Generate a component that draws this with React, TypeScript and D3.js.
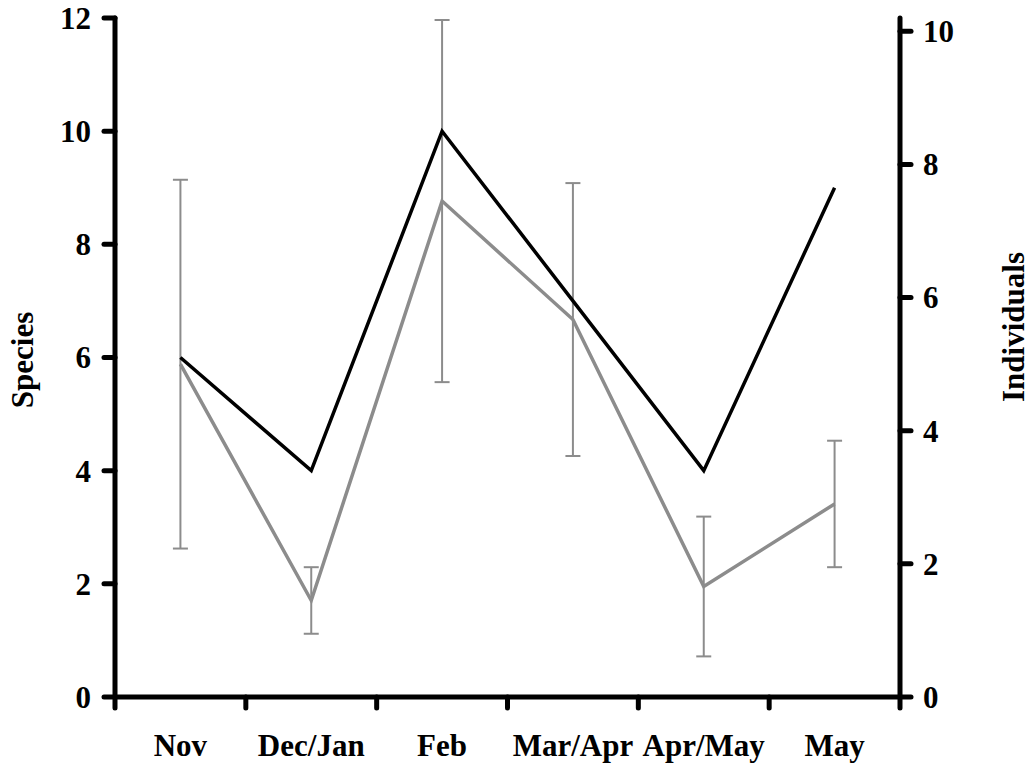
import React from "react";
import * as d3 from "d3";

const categories = ["Nov", "Dec/Jan", "Feb", "Mar/Apr", "Apr/May", "May"];
const species = [6, 4, 10, 7, 4, 9];
const individuals = [5.0, 1.45, 7.45, 5.67, 1.66, 2.9];
const individualsErr = [2.77, 0.5, 2.72, 2.05, 1.05, 0.95];
const leftTicks = [0, 2, 4, 6, 8, 10, 12];
const rightTicks = [0, 2, 4, 6, 8, 10];

const W = 1031;
const H = 769;
const M = { left: 115, right: 900, top: 18, bottom: 697 };
const FONT = "'Liberation Serif', 'Times New Roman', serif";
const GRAY = "#8c8c8c";

export default function App() {
  const x = d3.scaleBand<string>().domain(categories).range([M.left, M.right]).padding(0);
  const yL = d3.scaleLinear().domain([0, 12]).range([M.bottom, M.top]);
  const yR = d3.scaleLinear().domain([0, 10.2]).range([M.bottom, M.top]);
  const cx = (c: string) => (x(c) as number) + x.bandwidth() / 2;

  const lineL = d3.line<number>().x((_, i) => cx(categories[i])).y((d) => yL(d));
  const lineR = d3.line<number>().x((_, i) => cx(categories[i])).y((d) => yR(d));

  const boundaries = categories.map((c) => x(c) as number).concat([M.right]);
  const tickLen = 11;
  const axisW = 5;

  return (
    <svg
      width={W}
      height={H}
      style={{ position: "absolute", left: 0, top: 0, background: "#fff" }}
      fontFamily={FONT}
      fontWeight="bold"
    >
      <rect x={0} y={0} width={W} height={H} fill="#fff" />
      {/* error bars */}
      <g stroke={GRAY} strokeWidth={2} fill="none">
        {individuals.map((v, i) => {
          const px = cx(categories[i]);
          const top = yR(Math.min(v + individualsErr[i], 10.2));
          const bot = yR(Math.max(v - individualsErr[i], 0));
          return (
            <g key={i}>
              <line x1={px} x2={px} y1={top} y2={bot} />
              <line x1={px - 7.5} x2={px + 7.5} y1={top} y2={top} />
              <line x1={px - 7.5} x2={px + 7.5} y1={bot} y2={bot} />
            </g>
          );
        })}
      </g>
      <path d={lineR(individuals) || ""} fill="none" stroke={GRAY} strokeWidth={3.5} strokeLinejoin="miter" />
      <path d={lineL(species) || ""} fill="none" stroke="#000" strokeWidth={3.5} strokeLinejoin="miter" />

      {/* axes */}
      <g stroke="#000" strokeWidth={axisW} strokeLinecap="round">
        <line x1={M.left} x2={M.left} y1={yL(12)} y2={M.bottom} />
        {leftTicks.map((t) => (
          <line key={t} x1={M.left - tickLen} x2={M.left} y1={yL(t)} y2={yL(t)} />
        ))}
        <line x1={M.right} x2={M.right} y1={yR(10.2)} y2={M.bottom} />
        {rightTicks.map((t) => (
          <line key={t} x1={M.right} x2={M.right + tickLen} y1={yR(t)} y2={yR(t)} />
        ))}
        <line x1={M.left} x2={M.right} y1={M.bottom} y2={M.bottom} />
        {boundaries.map((b, i) => (
          <line key={i} x1={b} x2={b} y1={M.bottom} y2={M.bottom + tickLen} />
        ))}
      </g>

      <g fontSize={31} fill="#000">
        {leftTicks.map((t) => (
          <text key={t} x={M.left - 24} y={yL(t)} dy="0.35em" textAnchor="end">
            {t}
          </text>
        ))}
        {rightTicks.map((t) => (
          <text key={t} x={M.right + 23} y={yR(t)} dy="0.35em" textAnchor="start">
            {t}
          </text>
        ))}
        {categories.map((c) => (
          <text key={c} x={cx(c)} y={756} textAnchor="middle">
            {c}
          </text>
        ))}
        <text transform={`translate(33,360) rotate(-90)`} textAnchor="middle">
          Species
        </text>
        <text transform={`translate(1024,327) rotate(-90)`} textAnchor="middle">
          Individuals
        </text>
      </g>
    </svg>
  );
}
